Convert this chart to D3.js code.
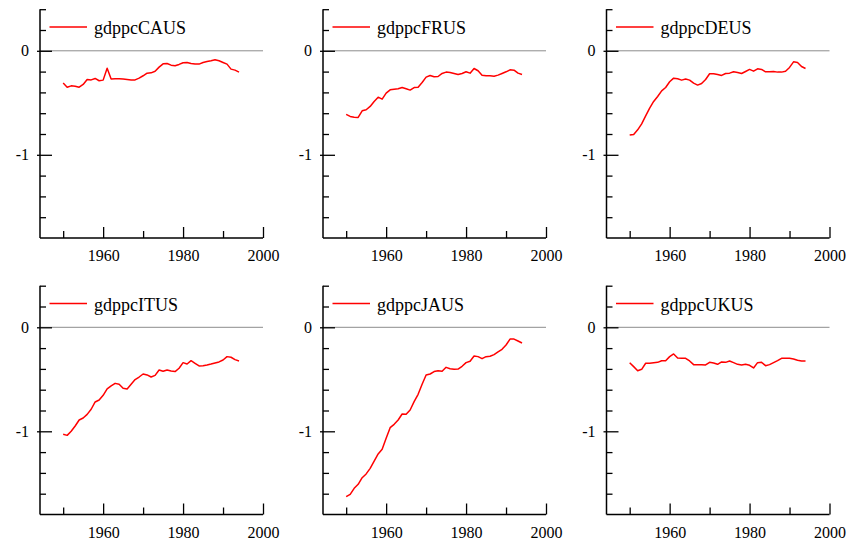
<!DOCTYPE html>
<html>
<head>
<meta charset="utf-8">
<script src="https://cdn.jsdelivr.net/npm/d3@7"></script>
<style>
  body { margin: 0; background: #fff; }
  svg { display: block; }
  text { font-family: "Liberation Serif", "Times New Roman", serif; fill: #000; }
</style>
</head>
<body>
<svg id="chart" width="854" height="542"></svg>
<script>
// Data

const years = [1950, 1951, 1952, 1953, 1954, 1955, 1956, 1957, 1958, 1959,
               1960, 1961, 1962, 1963, 1964, 1965, 1966, 1967, 1968, 1969,
               1970, 1971, 1972, 1973, 1974, 1975, 1976, 1977, 1978, 1979,
               1980, 1981, 1982, 1983, 1984, 1985, 1986, 1987, 1988, 1989,
               1990, 1991, 1992, 1993, 1994];

const gdppcCAUS = [-0.31, -0.35, -0.337, -0.34, -0.35, -0.324, -0.276, -0.28, -0.266, -0.288,
                   -0.282, -0.167, -0.272, -0.269, -0.269, -0.272, -0.276, -0.28, -0.28, -0.263,
                   -0.24, -0.215, -0.212, -0.196, -0.157, -0.125, -0.122, -0.138, -0.144, -0.131,
                   -0.115, -0.112, -0.122, -0.128, -0.128, -0.112, -0.103, -0.096, -0.087, -0.096,
                   -0.112, -0.128, -0.176, -0.186, -0.205];

const gdppcFRUS = [-0.612, -0.631, -0.638, -0.641, -0.577, -0.567, -0.535, -0.487, -0.446, -0.465,
                   -0.407, -0.375, -0.369, -0.365, -0.353, -0.365, -0.378, -0.353, -0.35, -0.305,
                   -0.253, -0.237, -0.25, -0.247, -0.218, -0.205, -0.208, -0.218, -0.228, -0.218,
                   -0.202, -0.215, -0.17, -0.192, -0.234, -0.24, -0.24, -0.244, -0.234, -0.218,
                   -0.202, -0.183, -0.186, -0.215, -0.228];

const gdppcDEUS = [-0.81, -0.805, -0.76, -0.702, -0.625, -0.551, -0.487, -0.439, -0.385, -0.353,
                   -0.298, -0.263, -0.269, -0.282, -0.272, -0.282, -0.311, -0.33, -0.314, -0.276,
                   -0.221, -0.221, -0.228, -0.237, -0.218, -0.215, -0.202, -0.208, -0.218, -0.199,
                   -0.179, -0.196, -0.173, -0.179, -0.202, -0.202, -0.199, -0.205, -0.205, -0.196,
                   -0.16, -0.106, -0.112, -0.151, -0.17];

const gdppcITUS = [-1.029, -1.039, -1.0, -0.949, -0.891, -0.872, -0.837, -0.788, -0.718, -0.699,
                   -0.654, -0.593, -0.564, -0.539, -0.548, -0.587, -0.593, -0.548, -0.503, -0.478,
                   -0.449, -0.458, -0.478, -0.462, -0.41, -0.423, -0.41, -0.42, -0.426, -0.394,
                   -0.34, -0.353, -0.321, -0.346, -0.372, -0.369, -0.362, -0.353, -0.343, -0.333,
                   -0.314, -0.282, -0.288, -0.311, -0.324];

const gdppcJAUS = [-1.629, -1.606, -1.548, -1.51, -1.446, -1.41, -1.356, -1.286, -1.218, -1.173,
                   -1.067, -0.965, -0.933, -0.891, -0.834, -0.837, -0.795, -0.715, -0.644, -0.548,
                   -0.459, -0.449, -0.426, -0.417, -0.423, -0.385, -0.398, -0.404, -0.401, -0.375,
                   -0.34, -0.327, -0.276, -0.282, -0.302, -0.282, -0.279, -0.263, -0.237, -0.212,
                   -0.17, -0.113, -0.113, -0.132, -0.151];

const gdppcUKUS = [-0.34, -0.378, -0.417, -0.404, -0.346, -0.346, -0.34, -0.337, -0.321, -0.321,
                   -0.282, -0.256, -0.295, -0.298, -0.298, -0.324, -0.359, -0.359, -0.359, -0.362,
                   -0.337, -0.343, -0.356, -0.333, -0.337, -0.324, -0.34, -0.356, -0.362, -0.356,
                   -0.365, -0.391, -0.34, -0.337, -0.369, -0.359, -0.34, -0.321, -0.298, -0.298,
                   -0.298, -0.305, -0.317, -0.324, -0.324];

const seriesNames = ["gdppcCAUS", "gdppcFRUS", "gdppcDEUS", "gdppcITUS", "gdppcJAUS", "gdppcUKUS"];
const seriesValues = [gdppcCAUS, gdppcFRUS, gdppcDEUS, gdppcITUS, gdppcJAUS, gdppcUKUS];

const xMinorTicks = [1950, 1970, 1990];
const xMajorTicks = [1960, 1980, 2000];
const yMajorTicks = [0, -1];
const yMinorTicks = [0.4, 0.2, -0.2, -0.4, -0.6, -0.8, -1.2, -1.4, -1.6];

// Layout

const colX = [40, 323, 606.5];
const rowTop = [9.2, 285.7];
const plotW = 223;
const plotH = 228.8;
const serif = '"Liberation Serif", "Times New Roman", serif';

const svg = d3.select('#chart');

const x = d3.scaleLinear().domain([1944.2, 2000]).range([0, plotW]);
const y = d3.scaleLinear().domain([-1.8, 0.4]).range([plotH, 0]);

const line = d3.line()
    .x(function (d) { return x(d.year); })
    .y(function (d) { return y(d.v); });

seriesNames.forEach(function (name, i) {
    const g = svg.append('g')
        .attr('transform', 'translate(' + colX[i % 3] + ',' + rowTop[Math.floor(i / 3)] + ')');

    // zero line
    g.append('line')
        .attr('x1', 0).attr('x2', plotW)
        .attr('y1', y(0)).attr('y2', y(0))
        .attr('stroke', '#8c8c8c')
        .attr('stroke-width', 1);

    // y axis: minor ticks, then major ticks with labels
    const yMinor = g.append('g')
        .call(d3.axisLeft(y).tickValues(yMinorTicks).tickSize(-6).tickFormat(''));
    const yMajor = g.append('g')
        .call(d3.axisLeft(y).tickValues(yMajorTicks).tickSize(-12).tickPadding(11)
            .tickFormat(function (d) { return d < 0 ? '-' + Math.abs(d) : String(d); }));
    yMajor.selectAll('.tick line').attr('x1', -3);

    // x axis
    const xMinor = g.append('g')
        .attr('transform', 'translate(0,' + plotH + ')')
        .call(d3.axisBottom(x).tickValues(xMinorTicks).tickSize(-7).tickFormat(''));
    const xMajor = g.append('g')
        .attr('transform', 'translate(0,' + plotH + ')')
        .call(d3.axisBottom(x).tickValues(xMajorTicks).tickSize(-11).tickPadding(12)
            .tickFormat(d3.format('d')));

    [yMinor, yMajor, xMinor, xMajor].forEach(function (a) {
        a.attr('font-family', serif).attr('font-size', 16);
        a.select('.domain').remove();
        a.selectAll('.tick line').attr('stroke', '#000').attr('stroke-width', 1.3);
        a.selectAll('.tick text')
            .attr('font-family', serif)
            .attr('font-size', 16)
            .attr('fill', '#000');
    });

    // axis lines
    g.append('line')
        .attr('x1', 0).attr('x2', 0).attr('y1', 0).attr('y2', plotH)
        .attr('stroke', '#000').attr('stroke-width', 1.5);
    g.append('line')
        .attr('x1', 0).attr('x2', plotW).attr('y1', plotH).attr('y2', plotH)
        .attr('stroke', '#000').attr('stroke-width', 1.5);

    // series
    const data = years.map(function (yr, j) { return { year: yr, v: seriesValues[i][j] }; });
    g.append('path')
        .datum(data)
        .attr('d', line)
        .attr('fill', 'none')
        .attr('stroke', '#ff0000')
        .attr('stroke-width', 1.5)
        .attr('stroke-linejoin', 'round');

    // legend
    g.append('line')
        .attr('x1', 9.5).attr('x2', 47)
        .attr('y1', 17.8).attr('y2', 17.8)
        .attr('stroke', '#ff0000')
        .attr('stroke-width', 1.5);
    g.append('text')
        .attr('x', 54)
        .attr('y', 25)
        .attr('font-family', serif)
        .attr('font-size', 18)
        .text(name);
});
</script>
</body>
</html>
